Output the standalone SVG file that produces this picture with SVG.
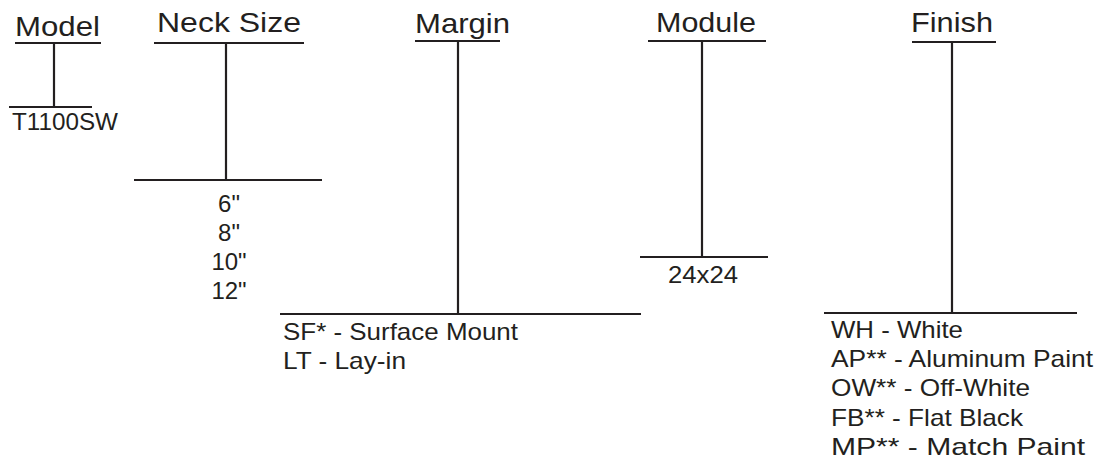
<svg xmlns="http://www.w3.org/2000/svg" width="1099" height="459" viewBox="0 0 1099 459">
<style>
.ln{stroke:#231f20;stroke-width:2.2;fill:none}
.h{font-family:"Liberation Sans",Arial,sans-serif;font-size:28px;fill:#231f20}
.t{font-family:"Liberation Sans",Arial,sans-serif;font-size:24px;fill:#231f20}
</style>
<rect width="1099" height="459" fill="#ffffff"/>
<g id="model">
<text class="h" x="15" y="36" textLength="85" lengthAdjust="spacingAndGlyphs">Model</text>
<text class="t" x="12" y="130" textLength="106" lengthAdjust="spacingAndGlyphs">T1100SW</text>
</g>
<g id="neck-size">
<text class="h" x="157" y="32" textLength="144" lengthAdjust="spacingAndGlyphs">Neck Size</text>
<text class="t" x="229" y="212" text-anchor="middle">6"</text>
<text class="t" x="229" y="241" text-anchor="middle">8"</text>
<text class="t" x="229" y="270" text-anchor="middle">10"</text>
<text class="t" x="229" y="299" text-anchor="middle">12"</text>
</g>
<g id="margin">
<text class="h" x="415" y="33" textLength="95" lengthAdjust="spacingAndGlyphs">Margin</text>
<text class="t" x="283" y="340" textLength="235" lengthAdjust="spacingAndGlyphs">SF* - Surface Mount</text>
<text class="t" x="283" y="369" textLength="123" lengthAdjust="spacingAndGlyphs">LT - Lay-in</text>
</g>
<g id="module">
<text class="h" x="656" y="32" textLength="100" lengthAdjust="spacingAndGlyphs">Module</text>
<text class="t" x="668" y="283" textLength="70" lengthAdjust="spacingAndGlyphs">24x24</text>
</g>
<g id="finish">
<text class="h" x="911" y="32" textLength="82" lengthAdjust="spacingAndGlyphs">Finish</text>
<text class="t" x="831" y="338" textLength="132" lengthAdjust="spacingAndGlyphs">WH - White</text>
<text class="t" x="831" y="367" textLength="262" lengthAdjust="spacingAndGlyphs">AP** - Aluminum Paint</text>
<text class="t" x="831" y="396" textLength="199" lengthAdjust="spacingAndGlyphs">OW** - Off-White</text>
<text class="t" x="831" y="426" textLength="192" lengthAdjust="spacingAndGlyphs">FB** - Flat Black</text>
<text class="t" x="831" y="455" textLength="254" lengthAdjust="spacingAndGlyphs">MP** - Match Paint</text>
</g>
<g id="connectors">
<path class="ln" d="M15 43H101M54 43V107M9 107H92"/>
<path class="ln" d="M154 43H304M226 43V180M134 180H322"/>
<path class="ln" d="M415 41H500M458 41V314M280 314H641"/>
<path class="ln" d="M648 41H766M702 41V257M640 257H768"/>
<path class="ln" d="M912 42H996M952 42V313M824 313H1077"/>
</g>
</svg>
